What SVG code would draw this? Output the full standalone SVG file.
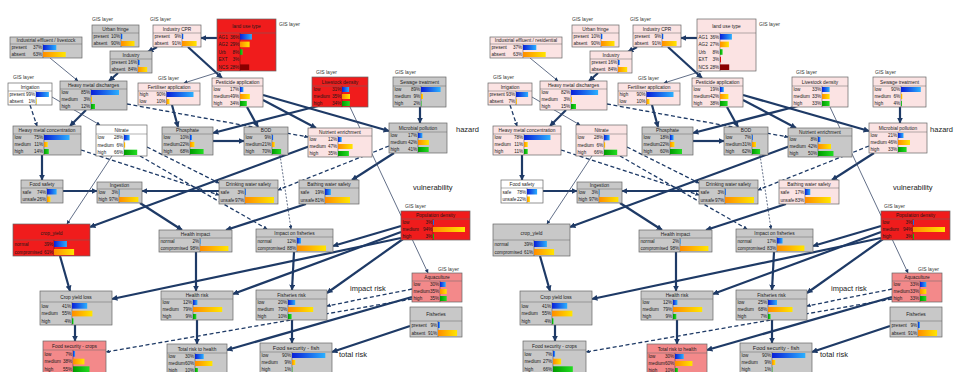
<svg xmlns="http://www.w3.org/2000/svg" width="955" height="372" viewBox="0 0 955 372">
<style>
.gy{fill:#c8c8c8}.pk{fill:#fbe3e3}.sa{fill:#f3898a}.rd{fill:#f01c1c}.wh{fill:#fff}
.bx{stroke:#666;stroke-width:.7}
.hl{stroke:#666;stroke-width:.5;fill:none}
.ax{stroke:#222;stroke-width:.4;fill:none}
text{font-family:"Liberation Sans",Arial,sans-serif;fill:#1a1a1a}
.t{font-size:4.8px;text-anchor:middle}
.r{font-size:4.6px}
.p{font-size:4.6px;text-anchor:end}
.g{font-size:5px;fill:#333}
.z{font-size:7.5px;fill:#222}
.b1{fill:url(#gB)}.b2{fill:url(#gO)}.b3{fill:url(#gG)}.b4{fill:#d81010}.b5{fill:#8a0000}
.e{fill:none;stroke:#1e3a66;stroke-width:2.2;marker-end:url(#aT)}
.s{fill:none;stroke:#3a4a6a;stroke-width:.8;marker-end:url(#aS)}
.d{fill:none;stroke:#1e3a66;stroke-width:1.3;stroke-dasharray:4 2.5;marker-end:url(#aS)}
.d2{fill:none;stroke:#3a4a6a;stroke-width:.8;stroke-dasharray:2 1.5;marker-end:url(#aS)}
</style>
<defs>
<linearGradient id="gB"><stop offset="0" stop-color="#0a1ed8"/><stop offset="1" stop-color="#2ab0ff"/></linearGradient>
<linearGradient id="gO"><stop offset="0" stop-color="#ff8c00"/><stop offset="1" stop-color="#ffe600"/></linearGradient>
<linearGradient id="gG"><stop offset="0" stop-color="#009a00"/><stop offset="1" stop-color="#22dd22"/></linearGradient>
<marker id="aT" viewBox="0 0 10 10" refX="9" refY="5" markerWidth="6" markerHeight="6" markerUnits="userSpaceOnUse" orient="auto"><path d="M0,0L10,5L0,10z" fill="#1e3a66"/></marker>
<marker id="aS" viewBox="0 0 10 10" refX="9" refY="5" markerWidth="4" markerHeight="4" markerUnits="userSpaceOnUse" orient="auto"><path d="M0,0L10,5L0,10z" fill="#1e3a66"/></marker>
</defs>
<rect width="955" height="372" fill="#fff"/>

<g id="connectors">
<g id="L-edges">
<path class="e" d="M118 73L109 81"/>
<path class="e" d="M157 47L148 52"/>
<path class="e" d="M217 38L201 38"/>
<path class="e" d="M188 47L222 78"/>
<path class="e" d="M86 110L70 126"/>
<path class="e" d="M172 105L178 127"/>
<path class="e" d="M213 141L244 141"/>
<path class="e" d="M247 107L258 127"/>
<path class="e" d="M263 100L316 128"/>
<path class="e" d="M263 95L389 131"/>
<path class="e" d="M318 106L213 133"/>
<path class="e" d="M420 107L420 123"/>
<path class="e" d="M394 153L352 180"/>
<path class="e" d="M42 155L42 180"/>
<path class="e" d="M63 191L97 191"/>
<path class="e" d="M219 191L142 191"/>
<path class="e" d="M140 203L182 230"/>
<path class="e" d="M310 146L90 227"/>
<path class="e" d="M306 204L226 230"/>
<path class="e" d="M60 256L70 291"/>
<path class="e" d="M75 325L75 341"/>
<path class="e" d="M196 252L196 291"/>
<path class="e" d="M294 252L292 290"/>
<path class="e" d="M197 320L197 344"/>
<path class="e" d="M292 320L292 343"/>
<path class="e" d="M401 226L333 246"/>
<path class="e" d="M401 232L233 294"/>
<path class="e" d="M403 239L327 293"/>
<path class="e" d="M401 238L112 299"/>
<path class="e" d="M410 326L332 352"/>
<path class="e" d="M412 297L227 350"/>
<path class="s" d="M50 58L78 81"/>
<path class="s" d="M222 71L184 83"/>
<path class="s" d="M52 97L100 125"/>
<path class="s" d="M350 107L428 273"/>
<path class="s" d="M112 156L67 224"/>
<path class="d2" d="M280 155L291 229"/>
<path class="d" d="M30 105L37 126"/>
<path class="d" d="M127 104L308 137"/>
<path class="d" d="M81 150L219 195"/>
<path class="d" d="M147 147L219 183"/>
<path class="d" d="M140 156L267 229"/>
<path class="d" d="M389 146L278 190"/>
<path class="d" d="M412 289L327 306"/>
<path class="d" d="M412 299L106 352"/>
</g>
<g id="R-edges" transform="translate(480,0)">
<path class="e" d="M118 73L109 81"/>
<path class="e" d="M157 47L148 52"/>
<path class="e" d="M217 38L201 38"/>
<path class="e" d="M188 47L222 78"/>
<path class="e" d="M86 110L70 126"/>
<path class="e" d="M172 105L178 127"/>
<path class="e" d="M213 141L244 141"/>
<path class="e" d="M247 107L258 127"/>
<path class="e" d="M263 100L316 128"/>
<path class="e" d="M263 95L389 131"/>
<path class="e" d="M318 106L213 133"/>
<path class="e" d="M420 107L420 123"/>
<path class="e" d="M394 153L352 180"/>
<path class="e" d="M42 155L42 180"/>
<path class="e" d="M63 191L97 191"/>
<path class="e" d="M219 191L142 191"/>
<path class="e" d="M140 203L182 230"/>
<path class="e" d="M310 146L90 227"/>
<path class="e" d="M306 204L226 230"/>
<path class="e" d="M60 256L70 291"/>
<path class="e" d="M75 325L75 341"/>
<path class="e" d="M196 252L196 291"/>
<path class="e" d="M294 252L292 290"/>
<path class="e" d="M197 320L197 344"/>
<path class="e" d="M292 320L292 343"/>
<path class="e" d="M401 226L333 246"/>
<path class="e" d="M401 232L233 294"/>
<path class="e" d="M403 239L327 293"/>
<path class="e" d="M401 238L112 299"/>
<path class="e" d="M410 326L332 352"/>
<path class="e" d="M412 297L227 350"/>
<path class="s" d="M50 58L78 81"/>
<path class="s" d="M222 71L184 83"/>
<path class="s" d="M52 97L100 125"/>
<path class="s" d="M350 107L428 273"/>
<path class="s" d="M112 156L67 224"/>
<path class="d2" d="M280 155L291 229"/>
<path class="d" d="M30 105L37 126"/>
<path class="d" d="M127 104L308 137"/>
<path class="d" d="M81 150L219 195"/>
<path class="d" d="M147 147L219 183"/>
<path class="d" d="M140 156L267 229"/>
<path class="d" d="M389 146L278 190"/>
<path class="d" d="M412 289L327 306"/>
<path class="d" d="M412 299L106 352"/>
</g>
</g>

<g id="labels">
<text class="g" x="92" y="21">GIS layer</text>
<text class="g" x="150" y="21">GIS layer</text>
<text class="g" x="279" y="26">GIS layer</text>
<text class="g" x="13" y="79">GIS layer</text>
<text class="g" x="158" y="80">GIS layer</text>
<text class="g" x="316" y="74">GIS layer</text>
<text class="g" x="395" y="74">GIS layer</text>
<text class="g" x="405" y="208">GIS layer</text>
<text class="g" x="438" y="271">GIS layer</text>
<text class="z" x="456" y="132">hazard</text>
<text class="z" x="413" y="190">vulnerability</text>
<text class="z" x="350" y="291">impact risk</text>
<text class="z" x="339" y="357">total risk</text>
<text class="g" x="572" y="21">GIS layer</text>
<text class="g" x="630" y="21">GIS layer</text>
<text class="g" x="759" y="26">GIS layer</text>
<text class="g" x="493" y="79">GIS layer</text>
<text class="g" x="638" y="80">GIS layer</text>
<text class="g" x="796" y="74">GIS layer</text>
<text class="g" x="875" y="74">GIS layer</text>
<text class="g" x="884" y="208">GIS layer</text>
<text class="g" x="918" y="271">GIS layer</text>
<text class="z" x="953" y="132" text-anchor="end">hazard</text>
<text class="z" x="893" y="190">vulnerability</text>
<text class="z" x="831" y="291">impact risk</text>
<text class="z" x="820" y="357">total risk</text>
</g>

<g id="left-network">
<g id="L-indEff" transform="translate(10,37)"><rect class="bx gy" width="72" height="21"/><text class="t" x="36" y="5.2">Industrial effluent / livestock</text><path class="hl" d="M0 7H72"/><path class="ax" d="M33 7V21"/>
<text class="r" x="1.5" y="12.2">present</text><text class="p" x="32.2" y="12.2">37%</text><rect class="b1" x="33" y="8" width="13.3" height="5"/>
<text class="r" x="1.5" y="19.2">absent</text><text class="p" x="32.2" y="19.2">63%</text><rect class="b2" x="33" y="15" width="22.7" height="5"/></g>

<g id="L-urban" transform="translate(92,25)"><rect class="bx gy" width="47" height="22"/><text class="t" x="23.5" y="6">Urban fringe</text><path class="hl" d="M0 8H47"/><path class="ax" d="M29 8V22"/>
<text class="r" x="1.5" y="13.2">present</text><text class="p" x="28.2" y="13.2">10%</text><rect class="b1" x="29" y="9" width="1.5" height="5"/>
<text class="r" x="1.5" y="20.2">absent</text><text class="p" x="28.2" y="20.2">90%</text><rect class="b2" x="29" y="16" width="13.5" height="5"/></g>

<g id="L-industry" transform="translate(110,51)"><rect class="bx gy" width="42" height="22"/><text class="t" x="21" y="6">Industry</text><path class="hl" d="M0 8H42"/><path class="ax" d="M28 8V22"/>
<text class="r" x="1.5" y="13.2">present</text><text class="p" x="27.2" y="13.2">16%</text><rect class="b1" x="28" y="9" width="1.8" height="5"/>
<text class="r" x="1.5" y="20.2">absent</text><text class="p" x="27.2" y="20.2">84%</text><rect class="b2" x="28" y="16" width="9.2" height="5"/></g>

<g id="L-indCPR" transform="translate(153,25)"><rect class="bx pk" width="48" height="22"/><text class="t" x="24" y="6">Industry CPR</text><path class="hl" d="M0 8H48"/><path class="ax" d="M29 8V22"/>
<text class="r" x="1.5" y="13.2">present</text><text class="p" x="28.2" y="13.2">9%</text><rect class="b1" x="29" y="9" width="1.4" height="5"/>
<text class="r" x="1.5" y="20.2">absent</text><text class="p" x="28.2" y="20.2">91%</text><rect class="b2" x="29" y="16" width="14.6" height="5"/></g>

<g id="L-landuse" transform="translate(217,19)"><rect class="bx rd" width="59" height="52"/><text class="t" x="29.5" y="9">land use type</text><path class="hl" d="M0 14H59"/><path class="ax" d="M23 14V52"/>
<text class="r" x="1.5" y="19.6">AG1</text><text class="p" x="22.2" y="19.6">36%</text><rect class="b1" x="23" y="15" width="11.9" height="5.6"/>
<text class="r" x="1.5" y="27.2">AG2</text><text class="p" x="22.2" y="27.2">29%</text><rect class="b2" x="23" y="22.6" width="9.6" height="5.6"/>
<text class="r" x="1.5" y="34.8">Urb</text><text class="p" x="22.2" y="34.8">8%</text><rect class="b3" x="23" y="30.2" width="2.6" height="5.6"/>
<text class="r" x="1.5" y="42.4">EXT</text><text class="p" x="22.2" y="42.4">3%</text><rect class="b4" x="23" y="37.8" width="1" height="5.6"/>
<text class="r" x="1.5" y="50">NCS</text><text class="p" x="22.2" y="50">28%</text><rect class="b5" x="23" y="45.4" width="9.2" height="5.6"/></g>

<g id="L-irr" transform="translate(8,83)"><rect class="bx wh" width="44" height="22"/><text class="t" x="22" y="6">Irrigation</text><path class="hl" d="M0 8H44"/><path class="ax" d="M28 8V22"/>
<text class="r" x="1.5" y="13.2">present</text><text class="p" x="27.2" y="13.2">99%</text><rect class="b1" x="28" y="9" width="12.9" height="5"/>
<text class="r" x="1.5" y="20.2">absent</text><text class="p" x="27.2" y="20.2">1%</text><rect class="b2" x="28" y="16" width="0.6" height="5"/></g>

<g id="L-hmd" transform="translate(60,81)"><rect class="bx gy" width="67" height="29"/><text class="t" x="33.5" y="6">Heavy metal discharges</text><path class="hl" d="M0 8H67"/><path class="ax" d="M31 8V29"/>
<text class="r" x="1.5" y="13.2">low</text><text class="p" x="30.2" y="13.2">85%</text><rect class="b1" x="31" y="9" width="28" height="5"/>
<text class="r" x="1.5" y="20.2">medium</text><text class="p" x="30.2" y="20.2">3%</text><rect class="b2" x="31" y="16" width="1" height="5"/>
<text class="r" x="1.5" y="27.2">high</text><text class="p" x="30.2" y="27.2">12%</text><rect class="b3" x="31" y="23" width="4" height="5"/></g>

<g id="L-fert" transform="translate(138,83)"><rect class="bx pk" width="62" height="22"/><text class="t" x="31" y="6">Fertiliser application</text><path class="hl" d="M0 8H62"/><path class="ax" d="M28.5 8V22"/>
<text class="r" x="1.5" y="13.2">high</text><text class="p" x="27.7" y="13.2">90%</text><rect class="b1" x="28.5" y="9" width="27" height="5"/>
<text class="r" x="1.5" y="20.2">low</text><text class="p" x="27.7" y="20.2">10%</text><rect class="b2" x="28.5" y="16" width="3" height="5"/></g>

<g id="L-herb" transform="translate(212,78)"><rect class="bx pk" width="51" height="29"/><text class="t" x="25.5" y="6">Pesticide application</text><path class="hl" d="M0 8H51"/><path class="ax" d="M28 8V29"/>
<text class="r" x="1.5" y="13.2">low</text><text class="p" x="27.2" y="13.2">17%</text><rect class="b1" x="28" y="9" width="3.4" height="5"/>
<text class="r" x="1.5" y="20.2">medium</text><text class="p" x="27.2" y="20.2">49%</text><rect class="b2" x="28" y="16" width="9.8" height="5"/>
<text class="r" x="1.5" y="27.2">high</text><text class="p" x="27.2" y="27.2">34%</text><rect class="b3" x="28" y="23" width="6.8" height="5"/></g>

<g id="L-live" transform="translate(312,77)"><rect class="bx rd" width="56" height="30"/><text class="t" x="28" y="6.6">Livestock density</text><path class="hl" d="M0 9H56"/><path class="ax" d="M30 9V30"/>
<text class="r" x="1.5" y="14.2">low</text><text class="p" x="29.2" y="14.2">31%</text><rect class="b1" x="30" y="10" width="7.1" height="5"/>
<text class="r" x="1.5" y="21.2">medium</text><text class="p" x="29.2" y="21.2">35%</text><rect class="b2" x="30" y="17" width="8" height="5"/>
<text class="r" x="1.5" y="28.2">high</text><text class="p" x="29.2" y="28.2">34%</text><rect class="b3" x="30" y="24" width="7.8" height="5"/></g>

<g id="L-sew" transform="translate(393,77)"><rect class="bx gy" width="53" height="30"/><text class="t" x="26.5" y="6.6">Sewage treatment</text><path class="hl" d="M0 9H53"/><path class="ax" d="M28 9V30"/>
<text class="r" x="1.5" y="14.2">low</text><text class="p" x="27.2" y="14.2">89%</text><rect class="b1" x="28" y="10" width="19.6" height="5"/>
<text class="r" x="1.5" y="21.2">medium</text><text class="p" x="27.2" y="21.2">9%</text><rect class="b2" x="28" y="17" width="2" height="5"/>
<text class="r" x="1.5" y="28.2">high</text><text class="p" x="27.2" y="28.2">2%</text><rect class="b3" x="28" y="24" width="0.5" height="5"/></g>

<g id="L-hmc" transform="translate(13,126)"><rect class="bx gy" width="68" height="29"/><text class="t" x="34" y="6">Heavy metal concentration</text><path class="hl" d="M0 8H68"/><path class="ax" d="M31 8V29"/>
<text class="r" x="1.5" y="13.2">low</text><text class="p" x="30.2" y="13.2">75%</text><rect class="b1" x="31" y="9" width="25.5" height="5"/>
<text class="r" x="1.5" y="20.2">medium</text><text class="p" x="30.2" y="20.2">11%</text><rect class="b2" x="31" y="16" width="3.7" height="5"/>
<text class="r" x="1.5" y="27.2">high</text><text class="p" x="30.2" y="27.2">14%</text><rect class="b3" x="31" y="23" width="4.8" height="5"/></g>

<g id="L-nit" transform="translate(96,125)"><rect class="bx wh" width="51" height="31"/><text class="t" x="25.5" y="6.6">Nitrate</text><path class="hl" d="M0 9H51"/><path class="ax" d="M28 9V31"/>
<text class="r" x="1.5" y="14.4">low</text><text class="p" x="27.2" y="14.4">28%</text><rect class="b1" x="28" y="10" width="5.6" height="5.3"/>
<text class="r" x="1.5" y="21.7">medium</text><text class="p" x="27.2" y="21.7">6%</text><rect class="b2" x="28" y="17.3" width="1.2" height="5.3"/>
<text class="r" x="1.5" y="29">high</text><text class="p" x="27.2" y="29">66%</text><rect class="b3" x="28" y="24.7" width="13.2" height="5.3"/></g>

<g id="L-pho" transform="translate(162,127)"><rect class="bx gy" width="51" height="28"/><text class="t" x="25.5" y="5.2">Phosphate</text><path class="hl" d="M0 7H51"/><path class="ax" d="M28 7V28"/>
<text class="r" x="1.5" y="12.2">low</text><text class="p" x="27.2" y="12.2">10%</text><rect class="b1" x="28" y="8" width="2" height="5"/>
<text class="r" x="1.5" y="19.2">medium</text><text class="p" x="27.2" y="19.2">22%</text><rect class="b2" x="28" y="15" width="4.4" height="5"/>
<text class="r" x="1.5" y="26.2">high</text><text class="p" x="27.2" y="26.2">68%</text><rect class="b3" x="28" y="22" width="13.6" height="5"/></g>

<g id="L-bod" transform="translate(244,127)"><rect class="bx gy" width="44" height="28"/><text class="t" x="22" y="5.4">BOD</text><path class="hl" d="M0 7H44"/><path class="ax" d="M28 7V28"/>
<text class="r" x="1.5" y="12.2">low</text><text class="p" x="27.2" y="12.2">9%</text><rect class="b1" x="28" y="8" width="1.2" height="5"/>
<text class="r" x="1.5" y="19.2">medium</text><text class="p" x="27.2" y="19.2">21%</text><rect class="b2" x="28" y="15" width="2.7" height="5"/>
<text class="r" x="1.5" y="26.2">high</text><text class="p" x="27.2" y="26.2">70%</text><rect class="b3" x="28" y="22" width="9.1" height="5"/></g>

<g id="L-nut" transform="translate(308,128)"><rect class="bx pk" width="64" height="29"/><text class="t" x="32" y="6">Nutrient enrichment</text><path class="hl" d="M0 8H64"/><path class="ax" d="M30 8V29"/>
<text class="r" x="1.5" y="13.2">low</text><text class="p" x="29.2" y="13.2">12%</text><rect class="b1" x="30" y="9" width="3.7" height="5"/>
<text class="r" x="1.5" y="20.2">medium</text><text class="p" x="29.2" y="20.2">47%</text><rect class="b2" x="30" y="16" width="14.6" height="5"/>
<text class="r" x="1.5" y="27.2">high</text><text class="p" x="29.2" y="27.2">35%</text><rect class="b3" x="30" y="23" width="10.9" height="5"/></g>

<g id="L-mic" transform="translate(389,123)"><rect class="bx gy" width="58" height="30"/><text class="t" x="29" y="6.6">Microbial pollution</text><path class="hl" d="M0 9H58"/><path class="ax" d="M29 9V30"/>
<text class="r" x="1.5" y="14.2">low</text><text class="p" x="28.2" y="14.2">17%</text><rect class="b1" x="29" y="10" width="4.4" height="5"/>
<text class="r" x="1.5" y="21.2">medium</text><text class="p" x="28.2" y="21.2">42%</text><rect class="b2" x="29" y="17" width="10.9" height="5"/>
<text class="r" x="1.5" y="28.2">high</text><text class="p" x="28.2" y="28.2">41%</text><rect class="b3" x="29" y="24" width="10.7" height="5"/></g>

<g id="L-fs" transform="translate(21,180)"><rect class="bx gy" width="42" height="23"/><text class="t" x="21" y="6">Food safety</text><path class="hl" d="M0 8H42"/><path class="ax" d="M26 8V23"/>
<text class="r" x="1.5" y="13.5">safe</text><text class="p" x="25.2" y="13.5">74%</text><rect class="b1" x="26" y="9" width="9.6" height="5.5"/>
<text class="r" x="1.5" y="21">unsafe</text><text class="p" x="25.2" y="21">26%</text><rect class="b2" x="26" y="16.5" width="3.4" height="5.5"/></g>

<g id="L-ing" transform="translate(97,182)"><rect class="bx gy" width="45" height="21"/><text class="t" x="22.5" y="5.2">Ingestion</text><path class="hl" d="M0 7H45"/><path class="ax" d="M22 7V21"/>
<text class="r" x="1.5" y="12.2">low</text><text class="p" x="21.2" y="12.2">3%</text><rect class="b1" x="22" y="8" width="0.6" height="5"/>
<text class="r" x="1.5" y="19.2">high</text><text class="p" x="21.2" y="19.2">97%</text><rect class="b2" x="22" y="15" width="19.4" height="5"/></g>

<g id="L-dws" transform="translate(219,180)"><rect class="bx gy" width="59" height="24"/><text class="t" x="29.5" y="6">Drinking water safety</text><path class="hl" d="M0 8H59"/><path class="ax" d="M26 8V24"/>
<text class="r" x="1.5" y="13.9">safe</text><text class="p" x="25.2" y="13.9">3%</text><rect class="b1" x="26" y="9" width="0.9" height="6"/>
<text class="r" x="1.5" y="21.9">unsafe</text><text class="p" x="25.2" y="21.9">97%</text><rect class="b2" x="26" y="17" width="29" height="6"/></g>

<g id="L-bws" transform="translate(299,180)"><rect class="bx gy" width="60" height="24"/><text class="t" x="30" y="6">Bathing water safety</text><path class="hl" d="M0 8H60"/><path class="ax" d="M26 8V24"/>
<text class="r" x="1.5" y="13.9">safe</text><text class="p" x="25.2" y="13.9">19%</text><rect class="b1" x="26" y="9" width="5.9" height="6"/>
<text class="r" x="1.5" y="21.9">unsafe</text><text class="p" x="25.2" y="21.9">81%</text><rect class="b2" x="26" y="17" width="25" height="6"/></g>

<g id="L-cy" transform="translate(13,224)"><rect class="bx rd" width="77" height="32"/><text class="t" x="38.5" y="10.5">crop_yield</text><path class="hl" d="M0 16H77"/><path class="ax" d="M41 16V32"/>
<text class="r" x="1.5" y="21.9">normal</text><text class="p" x="40.2" y="21.9">39%</text><rect class="b1" x="41" y="17" width="12.9" height="6"/>
<text class="r" x="1.5" y="29.9">compromised</text><text class="p" x="40.2" y="29.9">61%</text><rect class="b2" x="41" y="25" width="20.1" height="6"/></g>

<g id="L-hi" transform="translate(159,230)"><rect class="bx gy" width="73" height="22"/><text class="t" x="36.5" y="6">Health impact</text><path class="hl" d="M0 8H73"/><path class="ax" d="M41 8V22"/>
<text class="r" x="1.5" y="13.2">normal</text><text class="p" x="40.2" y="13.2">2%</text><rect class="b1" x="41" y="9" width="0.6" height="5"/>
<text class="r" x="1.5" y="20.2">compromised</text><text class="p" x="40.2" y="20.2">98%</text><rect class="b2" x="41" y="16" width="28.4" height="5"/></g>

<g id="L-fi" transform="translate(256,229)"><rect class="bx gy" width="77" height="23"/><text class="t" x="38.5" y="6">Impact on fisheries</text><path class="hl" d="M0 8H77"/><path class="ax" d="M41 8V23"/>
<text class="r" x="1.5" y="13.5">normal</text><text class="p" x="40.2" y="13.5">12%</text><rect class="b1" x="41" y="9" width="4" height="5.5"/>
<text class="r" x="1.5" y="21">compromised</text><text class="p" x="40.2" y="21">88%</text><rect class="b2" x="41" y="16.5" width="29" height="5.5"/></g>

<g id="L-pop" transform="translate(401,211)"><rect class="bx rd" width="69" height="29"/><text class="t" x="34.5" y="6">Population density</text><path class="hl" d="M0 8H69"/><path class="ax" d="M32 8V29"/>
<text class="r" x="1.5" y="13.2">low</text><text class="p" x="31.2" y="13.2">3%</text><rect class="b1" x="32" y="9" width="1" height="5"/>
<text class="r" x="1.5" y="20.2">medium</text><text class="p" x="31.2" y="20.2">94%</text><rect class="b2" x="32" y="16" width="32" height="5"/>
<text class="r" x="1.5" y="27.2">high</text><text class="p" x="31.2" y="27.2">3%</text><rect class="b3" x="32" y="23" width="1" height="5"/></g>

<g id="L-cyl" transform="translate(40,291)"><rect class="bx gy" width="72" height="34"/><text class="t" x="36" y="7.8">Crop yield loss</text><path class="hl" d="M0 11H72"/><path class="ax" d="M32 11V34"/>
<text class="r" x="1.5" y="16.7">low</text><text class="p" x="31.2" y="16.7">41%</text><rect class="b1" x="32" y="12" width="15.2" height="5.7"/>
<text class="r" x="1.5" y="24.4">medium</text><text class="p" x="31.2" y="24.4">55%</text><rect class="b2" x="32" y="19.7" width="20.4" height="5.7"/>
<text class="r" x="1.5" y="32">high</text><text class="p" x="31.2" y="32">4%</text><rect class="b3" x="32" y="27.3" width="1.5" height="5.7"/></g>

<g id="L-hr" transform="translate(161,291)"><rect class="bx gy" width="72" height="29"/><text class="t" x="36" y="6">Health risk</text><path class="hl" d="M0 8H72"/><path class="ax" d="M32 8V29"/>
<text class="r" x="1.5" y="13.2">low</text><text class="p" x="31.2" y="13.2">12%</text><rect class="b1" x="32" y="9" width="4.4" height="5"/>
<text class="r" x="1.5" y="20.2">medium</text><text class="p" x="31.2" y="20.2">79%</text><rect class="b2" x="32" y="16" width="29.2" height="5"/>
<text class="r" x="1.5" y="27.2">high</text><text class="p" x="31.2" y="27.2">9%</text><rect class="b3" x="32" y="23" width="3.3" height="5"/></g>

<g id="L-fr" transform="translate(256,290)"><rect class="bx gy" width="71" height="30"/><text class="t" x="35.5" y="6.6">Fisheries risk</text><path class="hl" d="M0 9H71"/><path class="ax" d="M32 9V30"/>
<text class="r" x="1.5" y="14.2">low</text><text class="p" x="31.2" y="14.2">20%</text><rect class="b1" x="32" y="10" width="7.2" height="5"/>
<text class="r" x="1.5" y="21.2">medium</text><text class="p" x="31.2" y="21.2">70%</text><rect class="b2" x="32" y="17" width="25.2" height="5"/>
<text class="r" x="1.5" y="28.2">high</text><text class="p" x="31.2" y="28.2">10%</text><rect class="b3" x="32" y="24" width="3.6" height="5"/></g>

<g id="L-aq" transform="translate(412,273)"><rect class="bx sa" width="50" height="29"/><text class="t" x="25" y="6">Aquaculture</text><path class="hl" d="M0 8H50"/><path class="ax" d="M28 8V29"/>
<text class="r" x="1.5" y="13.2">low</text><text class="p" x="27.2" y="13.2">30%</text><rect class="b1" x="28" y="9" width="5.7" height="5"/>
<text class="r" x="1.5" y="20.2">medium</text><text class="p" x="27.2" y="20.2">35%</text><rect class="b2" x="28" y="16" width="6.7" height="5"/>
<text class="r" x="1.5" y="27.2">high</text><text class="p" x="27.2" y="27.2">35%</text><rect class="b3" x="28" y="23" width="6.7" height="5"/></g>

<g id="L-fish" transform="translate(410,307)"><rect class="bx gy" width="52" height="30"/><text class="t" x="26" y="9.3">Fisheries</text><path class="hl" d="M0 14H52"/><path class="ax" d="M28 14V30"/>
<text class="r" x="1.5" y="19.9">present</text><text class="p" x="27.2" y="19.9">9%</text><rect class="b1" x="28" y="15" width="1.9" height="6"/>
<text class="r" x="1.5" y="27.9">absent</text><text class="p" x="27.2" y="27.9">91%</text><rect class="b2" x="28" y="23" width="19.1" height="6"/></g>

<g id="L-fc" transform="translate(43,341)"><rect class="bx sa" width="63" height="32"/><text class="t" x="31.5" y="6.6">Food security - crops</text><path class="hl" d="M0 9H63"/><path class="ax" d="M30 9V32"/>
<text class="r" x="1.5" y="14.7">low</text><text class="p" x="29.2" y="14.7">7%</text><rect class="b1" x="30" y="10" width="2.1" height="5.7"/>
<text class="r" x="1.5" y="22.4">medium</text><text class="p" x="29.2" y="22.4">38%</text><rect class="b2" x="30" y="17.7" width="11.4" height="5.7"/>
<text class="r" x="1.5" y="30">high</text><text class="p" x="29.2" y="30">55%</text><rect class="b3" x="30" y="25.3" width="16.5" height="5.7"/></g>

<g id="L-trh" transform="translate(167,344)"><rect class="bx gy" width="60" height="30"/><text class="t" x="30" y="6.6">Total risk to health</text><path class="hl" d="M0 9H60"/><path class="ax" d="M28 9V30"/>
<text class="r" x="1.5" y="14.2">low</text><text class="p" x="27.2" y="14.2">30%</text><rect class="b1" x="28" y="10" width="8.7" height="5"/>
<text class="r" x="1.5" y="21.2">medium</text><text class="p" x="27.2" y="21.2">60%</text><rect class="b2" x="28" y="17" width="17.4" height="5"/>
<text class="r" x="1.5" y="28.2">high</text><text class="p" x="27.2" y="28.2">10%</text><rect class="b3" x="28" y="24" width="2.9" height="5"/></g>

<g id="L-ff" transform="translate(260,343)"><rect class="bx gy" width="72" height="30"/><text class="t" x="36" y="6.8" style="font-size:5.5px">Food security - fish</text><path class="hl" d="M0 9H72"/><path class="ax" d="M32 9V30"/>
<text class="r" x="1.5" y="14.2">low</text><text class="p" x="31.2" y="14.2">90%</text><rect class="b1" x="32" y="10" width="33.3" height="5"/>
<text class="r" x="1.5" y="21.2">medium</text><text class="p" x="31.2" y="21.2">9%</text><rect class="b2" x="32" y="17" width="3.3" height="5"/>
<text class="r" x="1.5" y="28.2">high</text><text class="p" x="31.2" y="28.2">1%</text><rect class="b3" x="32" y="24" width="0.4" height="5"/></g>
</g>

<g id="right-network" transform="translate(480,0)">
<g id="R-indEff" transform="translate(10,37)"><rect class="bx pk" width="72" height="21"/><text class="t" x="36" y="5.2">Industrial effluent / residential</text><path class="hl" d="M0 7H72"/><path class="ax" d="M33 7V21"/>
<text class="r" x="1.5" y="12.2">present</text><text class="p" x="32.2" y="12.2">37%</text><rect class="b1" x="33" y="8" width="13.3" height="5"/>
<text class="r" x="1.5" y="19.2">absent</text><text class="p" x="32.2" y="19.2">63%</text><rect class="b2" x="33" y="15" width="22.7" height="5"/></g>

<g id="R-urban" transform="translate(92,25)"><rect class="bx pk" width="47" height="22"/><text class="t" x="23.5" y="6">Urban fringe</text><path class="hl" d="M0 8H47"/><path class="ax" d="M29 8V22"/>
<text class="r" x="1.5" y="13.2">present</text><text class="p" x="28.2" y="13.2">10%</text><rect class="b1" x="29" y="9" width="1.5" height="5"/>
<text class="r" x="1.5" y="20.2">absent</text><text class="p" x="28.2" y="20.2">90%</text><rect class="b2" x="29" y="16" width="13.5" height="5"/></g>

<g id="R-industry" transform="translate(110,51)"><rect class="bx pk" width="42" height="22"/><text class="t" x="21" y="6">Industry</text><path class="hl" d="M0 8H42"/><path class="ax" d="M28 8V22"/>
<text class="r" x="1.5" y="13.2">present</text><text class="p" x="27.2" y="13.2">16%</text><rect class="b1" x="28" y="9" width="1.8" height="5"/>
<text class="r" x="1.5" y="20.2">absent</text><text class="p" x="27.2" y="20.2">84%</text><rect class="b2" x="28" y="16" width="9.2" height="5"/></g>

<g id="R-indCPR" transform="translate(153,25)"><rect class="bx pk" width="48" height="22"/><text class="t" x="24" y="6">Industry CPR</text><path class="hl" d="M0 8H48"/><path class="ax" d="M29 8V22"/>
<text class="r" x="1.5" y="13.2">present</text><text class="p" x="28.2" y="13.2">9%</text><rect class="b1" x="29" y="9" width="1.4" height="5"/>
<text class="r" x="1.5" y="20.2">absent</text><text class="p" x="28.2" y="20.2">91%</text><rect class="b2" x="29" y="16" width="14.6" height="5"/></g>

<g id="R-landuse" transform="translate(217,19)"><rect class="bx pk" width="59" height="52"/><text class="t" x="29.5" y="9">land use type</text><path class="hl" d="M0 14H59"/><path class="ax" d="M23 14V52"/>
<text class="r" x="1.5" y="19.6">AG1</text><text class="p" x="22.2" y="19.6">36%</text><rect class="b1" x="23" y="15" width="11.9" height="5.6"/>
<text class="r" x="1.5" y="27.2">AG2</text><text class="p" x="22.2" y="27.2">27%</text><rect class="b2" x="23" y="22.6" width="8.9" height="5.6"/>
<text class="r" x="1.5" y="34.8">Urb</text><text class="p" x="22.2" y="34.8">8%</text><rect class="b3" x="23" y="30.2" width="2.6" height="5.6"/>
<text class="r" x="1.5" y="42.4">EXT</text><text class="p" x="22.2" y="42.4">3%</text><rect class="b4" x="23" y="37.8" width="1" height="5.6"/>
<text class="r" x="1.5" y="50">NCS</text><text class="p" x="22.2" y="50">28%</text><rect class="b5" x="23" y="45.4" width="9.2" height="5.6"/></g>

<g id="R-irr" transform="translate(8,83)"><rect class="bx pk" width="44" height="22"/><text class="t" x="22" y="6">Irrigation</text><path class="hl" d="M0 8H44"/><path class="ax" d="M28 8V22"/>
<text class="r" x="1.5" y="13.2">present</text><text class="p" x="27.2" y="13.2">93%</text><rect class="b1" x="28" y="9" width="12.1" height="5"/>
<text class="r" x="1.5" y="20.2">absent</text><text class="p" x="27.2" y="20.2">7%</text><rect class="b2" x="28" y="16" width="0.9" height="5"/></g>

<g id="R-hmd" transform="translate(60,81)"><rect class="bx pk" width="67" height="29"/><text class="t" x="33.5" y="6">Heavy metal discharges</text><path class="hl" d="M0 8H67"/><path class="ax" d="M31 8V29"/>
<text class="r" x="1.5" y="13.2">low</text><text class="p" x="30.2" y="13.2">82%</text><rect class="b1" x="31" y="9" width="27.1" height="5"/>
<text class="r" x="1.5" y="20.2">medium</text><text class="p" x="30.2" y="20.2">3%</text><rect class="b2" x="31" y="16" width="1" height="5"/>
<text class="r" x="1.5" y="27.2">high</text><text class="p" x="30.2" y="27.2">15%</text><rect class="b3" x="31" y="23" width="5" height="5"/></g>

<g id="R-fert" transform="translate(138,83)"><rect class="bx pk" width="62" height="22"/><text class="t" x="31" y="6">Fertiliser application</text><path class="hl" d="M0 8H62"/><path class="ax" d="M28.5 8V22"/>
<text class="r" x="1.5" y="13.2">high</text><text class="p" x="27.7" y="13.2">90%</text><rect class="b1" x="28.5" y="9" width="27" height="5"/>
<text class="r" x="1.5" y="20.2">low</text><text class="p" x="27.7" y="20.2">10%</text><rect class="b2" x="28.5" y="16" width="3" height="5"/></g>

<g id="R-herb" transform="translate(212,78)"><rect class="bx pk" width="51" height="29"/><text class="t" x="25.5" y="6">Pesticide application</text><path class="hl" d="M0 8H51"/><path class="ax" d="M28 8V29"/>
<text class="r" x="1.5" y="13.2">low</text><text class="p" x="27.2" y="13.2">19%</text><rect class="b1" x="28" y="9" width="3.8" height="5"/>
<text class="r" x="1.5" y="20.2">medium</text><text class="p" x="27.2" y="20.2">42%</text><rect class="b2" x="28" y="16" width="8.4" height="5"/>
<text class="r" x="1.5" y="27.2">high</text><text class="p" x="27.2" y="27.2">38%</text><rect class="b3" x="28" y="23" width="7.6" height="5"/></g>

<g id="R-live" transform="translate(312,77)"><rect class="bx pk" width="56" height="30"/><text class="t" x="28" y="6.6">Livestock density</text><path class="hl" d="M0 9H56"/><path class="ax" d="M30 9V30"/>
<text class="r" x="1.5" y="14.2">low</text><text class="p" x="29.2" y="14.2">33%</text><rect class="b1" x="30" y="10" width="7.6" height="5"/>
<text class="r" x="1.5" y="21.2">medium</text><text class="p" x="29.2" y="21.2">33%</text><rect class="b2" x="30" y="17" width="7.6" height="5"/>
<text class="r" x="1.5" y="28.2">high</text><text class="p" x="29.2" y="28.2">33%</text><rect class="b3" x="30" y="24" width="7.6" height="5"/></g>

<g id="R-sew" transform="translate(393,77)"><rect class="bx pk" width="53" height="30"/><text class="t" x="26.5" y="6.6">Sewage treatment</text><path class="hl" d="M0 9H53"/><path class="ax" d="M28 9V30"/>
<text class="r" x="1.5" y="14.2">low</text><text class="p" x="27.2" y="14.2">90%</text><rect class="b1" x="28" y="10" width="19.8" height="5"/>
<text class="r" x="1.5" y="21.2">medium</text><text class="p" x="27.2" y="21.2">6%</text><rect class="b2" x="28" y="17" width="1.3" height="5"/>
<text class="r" x="1.5" y="28.2">high</text><text class="p" x="27.2" y="28.2">4%</text><rect class="b3" x="28" y="24" width="0.9" height="5"/></g>

<g id="R-hmc" transform="translate(13,126)"><rect class="bx pk" width="68" height="29"/><text class="t" x="34" y="6">Heavy metal concentration</text><path class="hl" d="M0 8H68"/><path class="ax" d="M31 8V29"/>
<text class="r" x="1.5" y="13.2">low</text><text class="p" x="30.2" y="13.2">78%</text><rect class="b1" x="31" y="9" width="26.5" height="5"/>
<text class="r" x="1.5" y="20.2">medium</text><text class="p" x="30.2" y="20.2">11%</text><rect class="b2" x="31" y="16" width="3.7" height="5"/>
<text class="r" x="1.5" y="27.2">high</text><text class="p" x="30.2" y="27.2">11%</text><rect class="b3" x="31" y="23" width="3.7" height="5"/></g>

<g id="R-nit" transform="translate(96,125)"><rect class="bx pk" width="51" height="31"/><text class="t" x="25.5" y="6.6">Nitrate</text><path class="hl" d="M0 9H51"/><path class="ax" d="M28 9V31"/>
<text class="r" x="1.5" y="14.4">low</text><text class="p" x="27.2" y="14.4">28%</text><rect class="b1" x="28" y="10" width="5.6" height="5.3"/>
<text class="r" x="1.5" y="21.7">medium</text><text class="p" x="27.2" y="21.7">6%</text><rect class="b2" x="28" y="17.3" width="1.2" height="5.3"/>
<text class="r" x="1.5" y="29">high</text><text class="p" x="27.2" y="29">66%</text><rect class="b3" x="28" y="24.7" width="13.2" height="5.3"/></g>

<g id="R-pho" transform="translate(162,127)"><rect class="bx gy" width="51" height="28"/><text class="t" x="25.5" y="5.2">Phosphate</text><path class="hl" d="M0 7H51"/><path class="ax" d="M28 7V28"/>
<text class="r" x="1.5" y="12.2">low</text><text class="p" x="27.2" y="12.2">18%</text><rect class="b1" x="28" y="8" width="3.6" height="5"/>
<text class="r" x="1.5" y="19.2">medium</text><text class="p" x="27.2" y="19.2">22%</text><rect class="b2" x="28" y="15" width="4.4" height="5"/>
<text class="r" x="1.5" y="26.2">high</text><text class="p" x="27.2" y="26.2">60%</text><rect class="b3" x="28" y="22" width="12" height="5"/></g>

<g id="R-bod" transform="translate(244,127)"><rect class="bx gy" width="44" height="28"/><text class="t" x="22" y="5.4">BOD</text><path class="hl" d="M0 7H44"/><path class="ax" d="M28 7V28"/>
<text class="r" x="1.5" y="12.2">low</text><text class="p" x="27.2" y="12.2">7%</text><rect class="b1" x="28" y="8" width="0.9" height="5"/>
<text class="r" x="1.5" y="19.2">medium</text><text class="p" x="27.2" y="19.2">31%</text><rect class="b2" x="28" y="15" width="4" height="5"/>
<text class="r" x="1.5" y="26.2">high</text><text class="p" x="27.2" y="26.2">62%</text><rect class="b3" x="28" y="22" width="8.1" height="5"/></g>

<g id="R-nut" transform="translate(308,128)"><rect class="bx gy" width="64" height="29"/><text class="t" x="32" y="6">Nutrient enrichment</text><path class="hl" d="M0 8H64"/><path class="ax" d="M30 8V29"/>
<text class="r" x="1.5" y="13.2">low</text><text class="p" x="29.2" y="13.2">8%</text><rect class="b1" x="30" y="9" width="2.5" height="5"/>
<text class="r" x="1.5" y="20.2">medium</text><text class="p" x="29.2" y="20.2">42%</text><rect class="b2" x="30" y="16" width="13" height="5"/>
<text class="r" x="1.5" y="27.2">high</text><text class="p" x="29.2" y="27.2">50%</text><rect class="b3" x="30" y="23" width="15.5" height="5"/></g>

<g id="R-mic" transform="translate(389,123)"><rect class="bx pk" width="58" height="30"/><text class="t" x="29" y="6.6">Microbial pollution</text><path class="hl" d="M0 9H58"/><path class="ax" d="M29 9V30"/>
<text class="r" x="1.5" y="14.2">low</text><text class="p" x="28.2" y="14.2">21%</text><rect class="b1" x="29" y="10" width="5.5" height="5"/>
<text class="r" x="1.5" y="21.2">medium</text><text class="p" x="28.2" y="21.2">46%</text><rect class="b2" x="29" y="17" width="12" height="5"/>
<text class="r" x="1.5" y="28.2">high</text><text class="p" x="28.2" y="28.2">33%</text><rect class="b3" x="29" y="24" width="8.6" height="5"/></g>

<g id="R-fs" transform="translate(21,180)"><rect class="bx wh" width="42" height="23"/><text class="t" x="21" y="6">Food safety</text><path class="hl" d="M0 8H42"/><path class="ax" d="M26 8V23"/>
<text class="r" x="1.5" y="13.5">safe</text><text class="p" x="25.2" y="13.5">78%</text><rect class="b1" x="26" y="9" width="10.1" height="5.5"/>
<text class="r" x="1.5" y="21">unsafe</text><text class="p" x="25.2" y="21">22%</text><rect class="b2" x="26" y="16.5" width="2.9" height="5.5"/></g>

<g id="R-ing" transform="translate(97,182)"><rect class="bx gy" width="45" height="21"/><text class="t" x="22.5" y="5.2">Ingestion</text><path class="hl" d="M0 7H45"/><path class="ax" d="M22 7V21"/>
<text class="r" x="1.5" y="12.2">low</text><text class="p" x="21.2" y="12.2">3%</text><rect class="b1" x="22" y="8" width="0.6" height="5"/>
<text class="r" x="1.5" y="19.2">high</text><text class="p" x="21.2" y="19.2">97%</text><rect class="b2" x="22" y="15" width="19.4" height="5"/></g>

<g id="R-dws" transform="translate(219,180)"><rect class="bx gy" width="59" height="24"/><text class="t" x="29.5" y="6">Drinking water safety</text><path class="hl" d="M0 8H59"/><path class="ax" d="M26 8V24"/>
<text class="r" x="1.5" y="13.9">safe</text><text class="p" x="25.2" y="13.9">3%</text><rect class="b1" x="26" y="9" width="0.9" height="6"/>
<text class="r" x="1.5" y="21.9">unsafe</text><text class="p" x="25.2" y="21.9">97%</text><rect class="b2" x="26" y="17" width="29" height="6"/></g>

<g id="R-bws" transform="translate(299,180)"><rect class="bx pk" width="60" height="24"/><text class="t" x="30" y="6">Bathing water safety</text><path class="hl" d="M0 8H60"/><path class="ax" d="M26 8V24"/>
<text class="r" x="1.5" y="13.9">safe</text><text class="p" x="25.2" y="13.9">17%</text><rect class="b1" x="26" y="9" width="5.3" height="6"/>
<text class="r" x="1.5" y="21.9">unsafe</text><text class="p" x="25.2" y="21.9">83%</text><rect class="b2" x="26" y="17" width="25.7" height="6"/></g>

<g id="R-cy" transform="translate(13,224)"><rect class="bx gy" width="77" height="32"/><text class="t" x="38.5" y="10.5">crop_yield</text><path class="hl" d="M0 16H77"/><path class="ax" d="M41 16V32"/>
<text class="r" x="1.5" y="21.9">normal</text><text class="p" x="40.2" y="21.9">39%</text><rect class="b1" x="41" y="17" width="12.9" height="6"/>
<text class="r" x="1.5" y="29.9">compromised</text><text class="p" x="40.2" y="29.9">61%</text><rect class="b2" x="41" y="25" width="20.1" height="6"/></g>

<g id="R-hi" transform="translate(159,230)"><rect class="bx gy" width="73" height="22"/><text class="t" x="36.5" y="6">Health impact</text><path class="hl" d="M0 8H73"/><path class="ax" d="M41 8V22"/>
<text class="r" x="1.5" y="13.2">normal</text><text class="p" x="40.2" y="13.2">2%</text><rect class="b1" x="41" y="9" width="0.6" height="5"/>
<text class="r" x="1.5" y="20.2">compromised</text><text class="p" x="40.2" y="20.2">98%</text><rect class="b2" x="41" y="16" width="28.4" height="5"/></g>

<g id="R-fi" transform="translate(256,229)"><rect class="bx gy" width="77" height="23"/><text class="t" x="38.5" y="6">Impact on fisheries</text><path class="hl" d="M0 8H77"/><path class="ax" d="M41 8V23"/>
<text class="r" x="1.5" y="13.5">normal</text><text class="p" x="40.2" y="13.5">17%</text><rect class="b1" x="41" y="9" width="5.6" height="5.5"/>
<text class="r" x="1.5" y="21">compromised</text><text class="p" x="40.2" y="21">83%</text><rect class="b2" x="41" y="16.5" width="27.4" height="5.5"/></g>

<g id="R-pop" transform="translate(401,211)"><rect class="bx rd" width="69" height="29"/><text class="t" x="34.5" y="6">Population density</text><path class="hl" d="M0 8H69"/><path class="ax" d="M32 8V29"/>
<text class="r" x="1.5" y="13.2">low</text><text class="p" x="31.2" y="13.2">3%</text><rect class="b1" x="32" y="9" width="1" height="5"/>
<text class="r" x="1.5" y="20.2">medium</text><text class="p" x="31.2" y="20.2">94%</text><rect class="b2" x="32" y="16" width="32" height="5"/>
<text class="r" x="1.5" y="27.2">high</text><text class="p" x="31.2" y="27.2">3%</text><rect class="b3" x="32" y="23" width="1" height="5"/></g>

<g id="R-cyl" transform="translate(40,291)"><rect class="bx gy" width="72" height="34"/><text class="t" x="36" y="7.8">Crop yield loss</text><path class="hl" d="M0 11H72"/><path class="ax" d="M32 11V34"/>
<text class="r" x="1.5" y="16.7">low</text><text class="p" x="31.2" y="16.7">41%</text><rect class="b1" x="32" y="12" width="15.2" height="5.7"/>
<text class="r" x="1.5" y="24.4">medium</text><text class="p" x="31.2" y="24.4">55%</text><rect class="b2" x="32" y="19.7" width="20.4" height="5.7"/>
<text class="r" x="1.5" y="32">high</text><text class="p" x="31.2" y="32">4%</text><rect class="b3" x="32" y="27.3" width="1.5" height="5.7"/></g>

<g id="R-hr" transform="translate(161,291)"><rect class="bx gy" width="72" height="29"/><text class="t" x="36" y="6">Health risk</text><path class="hl" d="M0 8H72"/><path class="ax" d="M32 8V29"/>
<text class="r" x="1.5" y="13.2">low</text><text class="p" x="31.2" y="13.2">12%</text><rect class="b1" x="32" y="9" width="4.4" height="5"/>
<text class="r" x="1.5" y="20.2">medium</text><text class="p" x="31.2" y="20.2">79%</text><rect class="b2" x="32" y="16" width="29.2" height="5"/>
<text class="r" x="1.5" y="27.2">high</text><text class="p" x="31.2" y="27.2">9%</text><rect class="b3" x="32" y="23" width="3.3" height="5"/></g>

<g id="R-fr" transform="translate(256,290)"><rect class="bx gy" width="71" height="30"/><text class="t" x="35.5" y="6.6">Fisheries risk</text><path class="hl" d="M0 9H71"/><path class="ax" d="M32 9V30"/>
<text class="r" x="1.5" y="14.2">low</text><text class="p" x="31.2" y="14.2">25%</text><rect class="b1" x="32" y="10" width="9" height="5"/>
<text class="r" x="1.5" y="21.2">medium</text><text class="p" x="31.2" y="21.2">68%</text><rect class="b2" x="32" y="17" width="24.5" height="5"/>
<text class="r" x="1.5" y="28.2">high</text><text class="p" x="31.2" y="28.2">7%</text><rect class="b3" x="32" y="24" width="2.5" height="5"/></g>

<g id="R-aq" transform="translate(412,273)"><rect class="bx sa" width="50" height="29"/><text class="t" x="25" y="6">Aquaculture</text><path class="hl" d="M0 8H50"/><path class="ax" d="M28 8V29"/>
<text class="r" x="1.5" y="13.2">low</text><text class="p" x="27.2" y="13.2">33%</text><rect class="b1" x="28" y="9" width="6.3" height="5"/>
<text class="r" x="1.5" y="20.2">medium</text><text class="p" x="27.2" y="20.2">33%</text><rect class="b2" x="28" y="16" width="6.3" height="5"/>
<text class="r" x="1.5" y="27.2">high</text><text class="p" x="27.2" y="27.2">33%</text><rect class="b3" x="28" y="23" width="6.3" height="5"/></g>

<g id="R-fish" transform="translate(410,307)"><rect class="bx gy" width="52" height="30"/><text class="t" x="26" y="9.3">Fisheries</text><path class="hl" d="M0 14H52"/><path class="ax" d="M28 14V30"/>
<text class="r" x="1.5" y="19.9">present</text><text class="p" x="27.2" y="19.9">9%</text><rect class="b1" x="28" y="15" width="1.9" height="6"/>
<text class="r" x="1.5" y="27.9">absent</text><text class="p" x="27.2" y="27.9">91%</text><rect class="b2" x="28" y="23" width="19.1" height="6"/></g>

<g id="R-fc" transform="translate(43,341)"><rect class="bx gy" width="63" height="32"/><text class="t" x="31.5" y="6.6">Food security - crops</text><path class="hl" d="M0 9H63"/><path class="ax" d="M30 9V32"/>
<text class="r" x="1.5" y="14.7">low</text><text class="p" x="29.2" y="14.7">7%</text><rect class="b1" x="30" y="10" width="2.1" height="5.7"/>
<text class="r" x="1.5" y="22.4">medium</text><text class="p" x="29.2" y="22.4">27%</text><rect class="b2" x="30" y="17.7" width="8.1" height="5.7"/>
<text class="r" x="1.5" y="30">high</text><text class="p" x="29.2" y="30">66%</text><rect class="b3" x="30" y="25.3" width="19.8" height="5.7"/></g>

<g id="R-trh" transform="translate(167,344)"><rect class="bx sa" width="60" height="30"/><text class="t" x="30" y="6.6">Total risk to health</text><path class="hl" d="M0 9H60"/><path class="ax" d="M28 9V30"/>
<text class="r" x="1.5" y="14.2">low</text><text class="p" x="27.2" y="14.2">30%</text><rect class="b1" x="28" y="10" width="8.7" height="5"/>
<text class="r" x="1.5" y="21.2">medium</text><text class="p" x="27.2" y="21.2">60%</text><rect class="b2" x="28" y="17" width="17.4" height="5"/>
<text class="r" x="1.5" y="28.2">high</text><text class="p" x="27.2" y="28.2">10%</text><rect class="b3" x="28" y="24" width="2.9" height="5"/></g>

<g id="R-ff" transform="translate(260,343)"><rect class="bx gy" width="72" height="30"/><text class="t" x="36" y="6.8" style="font-size:5.5px">Food security - fish</text><path class="hl" d="M0 9H72"/><path class="ax" d="M32 9V30"/>
<text class="r" x="1.5" y="14.2">low</text><text class="p" x="31.2" y="14.2">90%</text><rect class="b1" x="32" y="10" width="33.3" height="5"/>
<text class="r" x="1.5" y="21.2">medium</text><text class="p" x="31.2" y="21.2">9%</text><rect class="b2" x="32" y="17" width="3.3" height="5"/>
<text class="r" x="1.5" y="28.2">high</text><text class="p" x="31.2" y="28.2">1%</text><rect class="b3" x="32" y="24" width="0.4" height="5"/></g>
</g>
</svg>
